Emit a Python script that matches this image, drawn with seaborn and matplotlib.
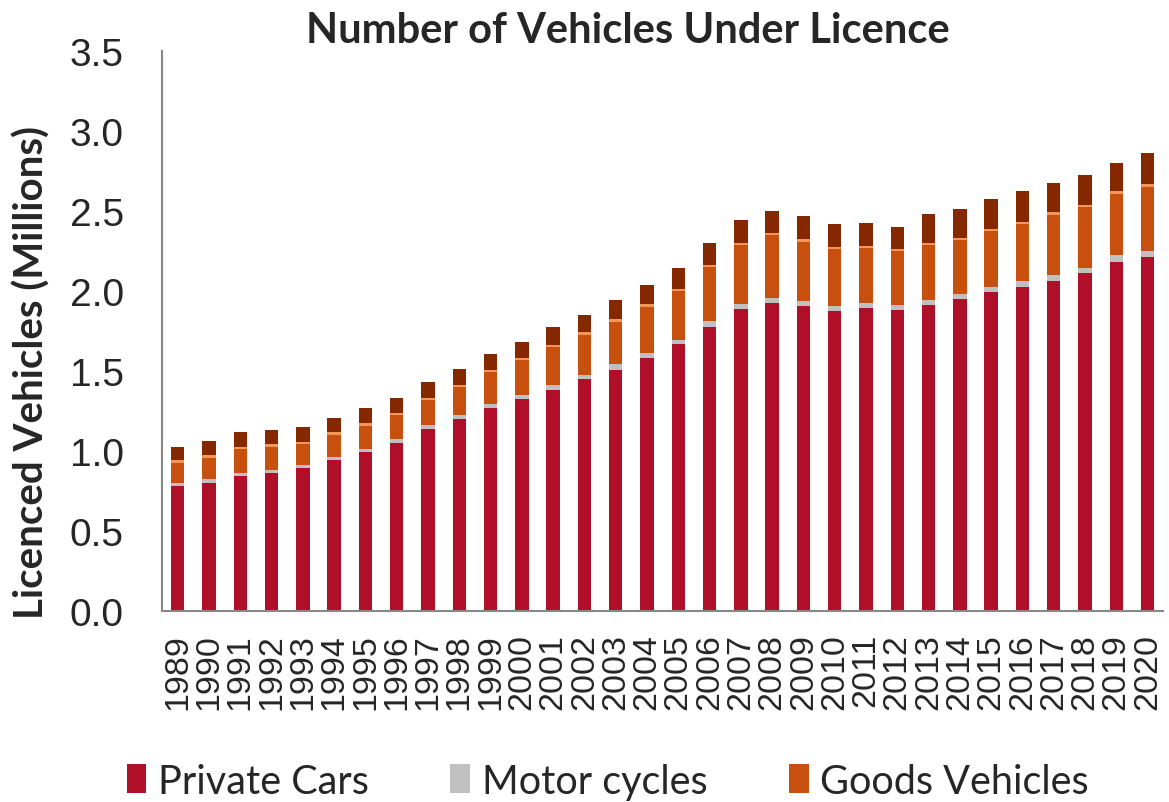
import numpy as np
import pandas as pd
import matplotlib
matplotlib.use("Agg")
import matplotlib.pyplot as plt
from matplotlib.patches import Patch
import seaborn as sns

# Vehicles under licence (millions)
years = [str(y) for y in range(1989, 2021)]

private_cars = [0.78, 0.80, 0.84, 0.86, 0.89, 0.94, 0.99, 1.05, 1.135, 1.20,
                1.265, 1.32, 1.38, 1.45, 1.505, 1.58, 1.665, 1.775, 1.885, 1.925,
                1.905, 1.875, 1.89, 1.88, 1.91, 1.95, 1.99, 2.02, 2.06, 2.11,
                2.18, 2.21]
motor_cycles = [0.02, 0.02, 0.02, 0.02, 0.02, 0.02, 0.02, 0.02, 0.027, 0.02,
                0.025, 0.03, 0.03, 0.025, 0.035, 0.03, 0.025, 0.035, 0.03, 0.03,
                0.03, 0.03, 0.03, 0.03, 0.03, 0.03, 0.03, 0.04, 0.04, 0.03,
                0.04, 0.04]
goods_vehicles = [0.125, 0.135, 0.15, 0.145, 0.13, 0.14, 0.145, 0.15, 0.155, 0.175,
                  0.20, 0.215, 0.235, 0.25, 0.265, 0.29, 0.305, 0.335, 0.37, 0.39,
                  0.37, 0.355, 0.345, 0.335, 0.345, 0.335, 0.35, 0.355, 0.375, 0.38,
                  0.385, 0.40]
other_light = [0.015, 0.015, 0.015, 0.015, 0.015, 0.015, 0.015, 0.015, 0.015, 0.015,
               0.015, 0.015, 0.015, 0.015, 0.015, 0.015, 0.015, 0.015, 0.015, 0.015,
               0.015, 0.015, 0.015, 0.015, 0.015, 0.015, 0.015, 0.015, 0.015, 0.015,
               0.015, 0.015]
other_heavy = [0.08, 0.09, 0.09, 0.09, 0.09, 0.09, 0.095, 0.095, 0.10, 0.10,
               0.10, 0.10, 0.11, 0.11, 0.12, 0.12, 0.13, 0.135, 0.14, 0.14,
               0.145, 0.14, 0.14, 0.14, 0.18, 0.18, 0.185, 0.19, 0.18, 0.185,
               0.18, 0.195]

series = ["Private Cars", "Motor cycles", "Goods Vehicles", "Other (light)", "Other (heavy)"]
colors = ["#AF0F28", "#C0C0C0", "#C8500F", "#F3965A", "#852800"]

df = pd.DataFrame({
    "year": years,
    "Private Cars": private_cars,
    "Motor cycles": motor_cycles,
    "Goods Vehicles": goods_vehicles,
    "Other (light)": other_light,
    "Other (heavy)": other_heavy,
})

# cumulative heights so the bars can be layered from top to bottom
cum = df[series].cumsum(axis=1)

sns.set_style("white")
plt.rcParams["font.family"] = ["Liberation Sans", "DejaVu Sans"]

fig = plt.figure(figsize=(11.69, 8.03), dpi=100)
ax = fig.add_axes([0.1386, 0.2383, 0.8564, 0.6973])

for name, col in reversed(list(zip(series, colors))):
    sns.barplot(x=df["year"], y=cum[name], color=col, width=0.43,
                saturation=1, edgecolor="none", ax=ax)

ax.set_xlim(-0.5, len(years) - 0.5)
ax.set_ylim(0, 3.5)
ax.set_yticks(np.arange(0, 3.51, 0.5))
ax.set_yticklabels([f"{v:.1f}" for v in np.arange(0, 3.51, 0.5)], fontsize=28)
ax.set_xticks(range(len(years)))
ax.set_xticklabels(years, rotation=90, fontsize=24.5)
ax.set_xticks(np.arange(-0.5, len(years)), minor=True)
ax.tick_params(axis="x", which="major", length=0, pad=16)
ax.tick_params(axis="x", which="minor", length=9, width=1.5, color="#888888")
ax.tick_params(axis="y", length=9.5, width=1.5, color="#888888", pad=18)
ax.set_xlabel("")
ax.set_ylabel("")

sns.despine(ax=ax)
for s in ["left", "bottom"]:
    ax.spines[s].set_color("#888888")
    ax.spines[s].set_linewidth(1.5)

fig.text(0.537, 0.961, "Number of Vehicles Under Licence", ha="center", va="center",
         fontsize=30, fontweight="bold", family="Lato")
fig.text(0.027, 0.536, "Licenced Vehicles (Millions)", ha="center", va="center",
         rotation=90, fontsize=29, fontweight="bold", family="Lato")

handles = [Patch(facecolor=c, edgecolor="none") for c in colors[:3]]
fig.legend(handles, series[:3], loc="center", bbox_to_anchor=(0.52, 0.026), ncol=3,
           frameon=False, prop={"family": "Lato", "size": 28.5},
           handlelength=0.5, handleheight=0.75, handletextpad=0.3, columnspacing=2.05)

fig.savefig("out.png", dpi=100)
